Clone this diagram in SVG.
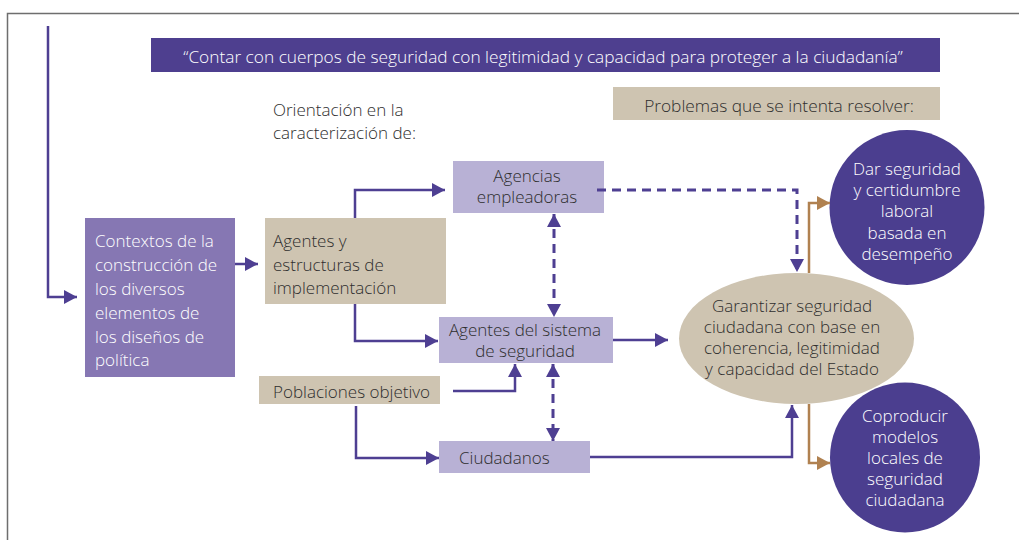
<svg xmlns="http://www.w3.org/2000/svg" width="1019" height="540" viewBox="0 0 1019 540">
<defs>
<style>
.t{font-family:"Open Sans","Noto Sans","DejaVu Sans",sans-serif;font-size:17px;font-weight:300;fill:#2e2e2e}
.h{font-size:17.3px}
.w{fill:#ffffff}
.c{text-anchor:middle}
.ln{fill:none;stroke:#4e3f92;stroke-width:2.5}
.ds{fill:none;stroke:#4e3f92;stroke-width:3;stroke-dasharray:9 6}
.br{fill:none;stroke:#b08150;stroke-width:2.5}
.lp{fill:#b8b1d5}
.bg{fill:#cec4b1}
.dp{fill:#4b3e8f}
</style>
<marker id="a" viewBox="0 0 13 14" refX="13" refY="7" markerWidth="13" markerHeight="14" markerUnits="userSpaceOnUse" orient="auto-start-reverse">
<path d="M0,0 L13,7 L0,14 Z" fill="#4e3f92"/>
</marker>
<marker id="b" viewBox="0 0 13 14" refX="13" refY="7" markerWidth="13" markerHeight="14" markerUnits="userSpaceOnUse" orient="auto">
<path d="M0,0 L13,7 L0,14 Z" fill="#b08150"/>
</marker>
</defs>
<rect width="1019" height="540" fill="#ffffff"/>
<path d="M7.5,540 V13.5 H1019" fill="none" stroke="#6e6e6e" stroke-width="1.5"/>

<g id="banner">
<rect x="151" y="38" width="789" height="34" fill="#4e3f8f"/>
<text class="t h w c" x="543" y="63">“Contar con cuerpos de seguridad con legitimidad y capacidad para proteger a la ciudadanía”</text>
</g>
<g id="orientacion">
<text class="t" x="273" y="116">Orientación en la</text>
<text class="t" x="273" y="139">caracterización de:</text>
</g>
<g id="problemas">
<rect x="613" y="87" width="327" height="33" class="bg"/>
<text class="t h c" x="779" y="112">Problemas que se intenta resolver:</text>
</g>
<g id="contextos">
<rect x="85" y="218" width="150" height="159" fill="#8677b3"/>
<text class="t w" x="95" y="247">Contextos de la</text>
<text class="t w" x="95" y="271">construcción de</text>
<text class="t w" x="95" y="295">los diversos</text>
<text class="t w" x="95" y="319">elementos de</text>
<text class="t w" x="95" y="343">los diseños de</text>
<text class="t w" x="95" y="366">política</text>
</g>
<g id="agentes-estructuras">
<rect x="265" y="218" width="181" height="86" class="bg"/>
<text class="t" x="273" y="247">Agentes y</text>
<text class="t" x="273" y="271">estructuras de</text>
<text class="t" x="273" y="294">implementación</text>
</g>
<g id="agencias">
<rect x="453" y="161" width="151" height="52" class="lp"/>
<text class="t c" x="527" y="182">Agencias</text>
<text class="t c" x="527" y="203">empleadoras</text>
</g>
<g id="agentes-sistema">
<rect x="439" y="317" width="174" height="46" class="lp"/>
<text class="t c" x="525" y="336">Agentes del sistema</text>
<text class="t c" x="525" y="357">de seguridad</text>
</g>
<g id="poblaciones">
<rect x="259" y="376" width="181" height="28" class="bg"/>
<text class="t" x="273" y="398">Poblaciones objetivo</text>
</g>
<g id="ciudadanos">
<rect x="439" y="441" width="151" height="32" class="lp"/>
<text class="t" x="459" y="464">Ciudadanos</text>
</g>
<g id="garantizar">
<ellipse cx="796.5" cy="338.5" rx="117.5" ry="65.5" class="bg"/>
<text class="t c" x="792" y="312">Garantizar seguridad</text>
<text class="t c" x="792" y="333">ciudadana con base en</text>
<text class="t c" x="792" y="354">coherencia, legitimidad</text>
<text class="t c" x="792" y="375">y capacidad del Estado</text>
</g>
<g id="dar-seguridad">
<circle cx="907" cy="207.5" r="77.5" class="dp"/>
<text class="t w c" x="907" y="175">Dar seguridad</text>
<text class="t w c" x="907" y="196">y certidumbre</text>
<text class="t w c" x="907" y="217">laboral</text>
<text class="t w c" x="907" y="239">basada en</text>
<text class="t w c" x="907" y="260">desempeño</text>
</g>
<g id="coproducir">
<circle cx="905" cy="457.5" r="75" class="dp"/>
<text class="t w c" x="905" y="422">Coproducir</text>
<text class="t w c" x="905" y="443">modelos</text>
<text class="t w c" x="905" y="464">locales de</text>
<text class="t w c" x="905" y="485">seguridad</text>
<text class="t w c" x="905" y="506">ciudadana</text>
</g>

<g id="connectors">
<path class="ln" d="M48,26 V297 H77" marker-end="url(#a)"/>
<path class="ln" d="M235,264 H258" marker-end="url(#a)"/>
<path class="ln" d="M355,218 V190 H445" marker-end="url(#a)"/>
<path class="ln" d="M355,304 V341 H438" marker-end="url(#a)"/>
<path class="ln" d="M613,340 H668" marker-end="url(#a)"/>
<path class="ln" d="M453,391 H515 V364" marker-end="url(#a)"/>
<path class="ln" d="M356,406 V458 H439" marker-end="url(#a)"/>
<path class="ln" d="M590,457 H792 V405" marker-end="url(#a)"/>
<path class="ds" d="M597,190 H797 V272" marker-end="url(#a)"/>
<path class="ds" d="M554,214 V317" marker-start="url(#a)" marker-end="url(#a)"/>
<path class="ds" d="M553,364 V441" marker-start="url(#a)" marker-end="url(#a)"/>
<path class="br" d="M809,273 V203 H830" marker-end="url(#b)"/>
<path class="br" d="M809,404 V463 H830" marker-end="url(#b)"/>
</g>
</svg>
